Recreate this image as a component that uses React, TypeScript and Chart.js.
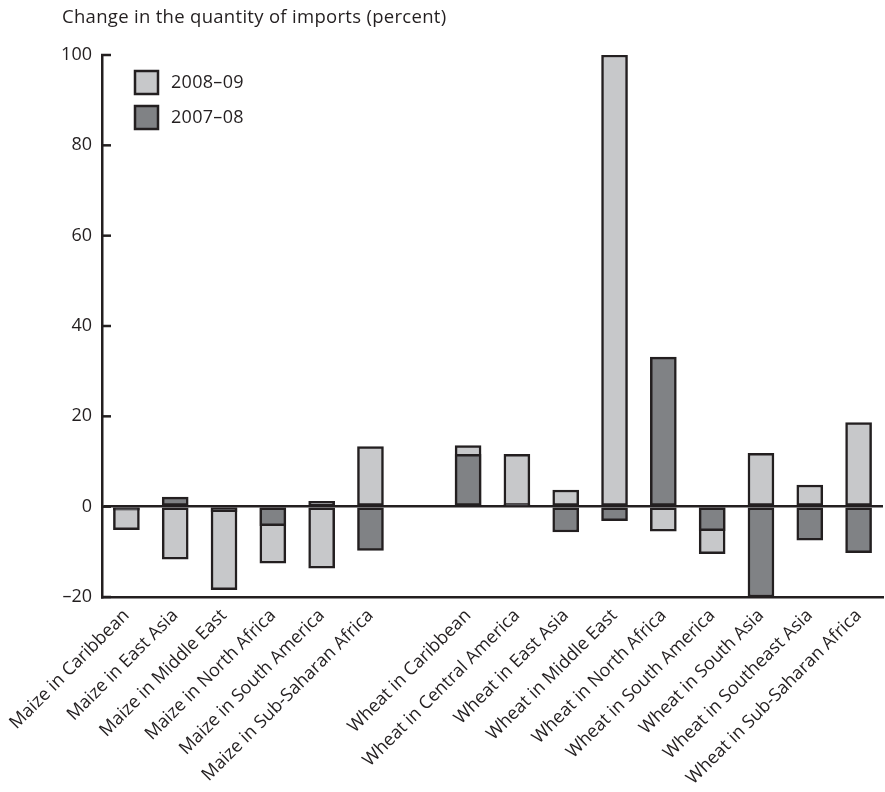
import { useEffect, useRef } from 'react';
import { Chart, registerables } from 'chart.js';

Chart.register(...registerables);

const categories = [
  'Maize in Caribbean',
  'Maize in East Asia',
  'Maize in Middle East',
  'Maize in North Africa',
  'Maize in South America',
  'Maize in Sub-Saharan Africa',
  '',
  'Wheat in Caribbean',
  'Wheat in Central America',
  'Wheat in East Asia',
  'Wheat in Middle East',
  'Wheat in North Africa',
  'Wheat in South America',
  'Wheat in South Asia',
  'Wheat in Southeast Asia',
  'Wheat in Sub-Saharan Africa',
];

const series2008_09 = [-5.1, -11.6, -18.4, -12.5, -13.6, 13.3, null, 13.5, 11.6, 3.7, 100, -5.4, -10.4, 11.8, 4.8, 18.6];
const series2007_08 = [-0.8, 2.1, -1.1, -4.2, 1.2, -9.7, null, 11.6, 0.5, -5.6, -3.1, 33.1, -5.3, -20, -7.4, -10.2];

const yTickValues = [-20, 0, 20, 40, 60, 80, 100];
const titleText = 'Change in the quantity of imports (percent)';
const legendLabels = ['2008\u201309', '2007\u201308'];

const INK = '#231f20';
const LIGHT = '#c7c8ca';
const DARK = '#808285';
const FONT = "'Open Sans', sans-serif";

const overlayPlugin = {
  id: 'overlay',
  afterDraw(chart: any) {
    const { ctx, chartArea, scales } = chart;
    const y = scales.y;
    ctx.save();
    // inward tick marks
    ctx.strokeStyle = INK;
    ctx.lineWidth = 2.5;
    yTickValues.forEach((v) => {
      const py = y.getPixelForValue(v);
      ctx.beginPath();
      ctx.moveTo(chartArea.left - 1, py);
      ctx.lineTo(chartArea.left + 9, py);
      ctx.stroke();
    });
    // title
    ctx.fillStyle = INK;
    ctx.font = `18.5px ${FONT}`;
    ctx.textAlign = 'left';
    ctx.textBaseline = 'alphabetic';
    (ctx as any).letterSpacing = '0.3px';
    ctx.fillText(titleText, 62, 23);
    // legend
    const colors = [LIGHT, DARK];
    legendLabels.forEach((lab, i) => {
      const bx = chartArea.left + 33;
      const by = chartArea.top + 16 + i * 35;
      ctx.fillStyle = colors[i];
      ctx.fillRect(bx, by, 23, 23);
      ctx.strokeStyle = INK;
      ctx.lineWidth = 2.5;
      ctx.strokeRect(bx, by, 23, 23);
      ctx.fillStyle = INK;
      ctx.font = `18px ${FONT}`;
      ctx.textBaseline = 'middle';
      ctx.fillText(lab, bx + 36, by + 12);
    });
    ctx.restore();
  },
};

export default function App() {
  const ref = useRef<HTMLCanvasElement>(null);
  useEffect(() => {
    const chart = new Chart(ref.current as HTMLCanvasElement, {
      type: 'bar',
      data: {
        labels: categories,
        datasets: [
          {
            label: legendLabels[0],
            data: series2008_09 as any,
            backgroundColor: LIGHT,
            borderColor: INK,
            borderWidth: 2.5,
            borderSkipped: false,
            order: 2,
          },
          {
            label: legendLabels[1],
            data: series2007_08 as any,
            backgroundColor: DARK,
            borderColor: INK,
            borderWidth: 2.5,
            borderSkipped: false,
            order: 1,
          },
        ],
      },
      options: {
        animation: false,
        responsive: true,
        maintainAspectRatio: false,
        layout: { padding: { left: 0, right: 2, top: 55, bottom: 0 } },
        datasets: { bar: { grouped: false, barThickness: 26 } as any },
        plugins: {
          legend: { display: false },
          tooltip: { enabled: false },
          title: { display: false },
        },
        scales: {
          x: {
            grid: { display: false, drawTicks: false },
            border: { display: true, color: INK, width: 2.5 },
            ticks: {
              autoSkip: false,
              minRotation: 45,
              maxRotation: 45,
              padding: 8,
              color: INK,
              font: { family: FONT, size: 18 },
            },
            afterFit(scale: any) {
              scale.height = 195;
            },
          },
          y: {
            min: -20,
            max: 100,
            afterBuildTicks(scale: any) {
              scale.ticks = yTickValues.map((v) => ({ value: v }));
            },
            grid: {
              drawTicks: false,
              lineWidth: 2.5,
              color: (c: any) => (c.tick && c.tick.value === 0 ? INK : 'rgba(0,0,0,0)'),
            },
            border: { display: true, color: INK, width: 2.5 },
            ticks: {
              padding: 10,
              color: INK,
              font: { family: FONT, size: 18 },
              callback: (v: any) => (Number(v) < 0 ? '\u2013' + Math.abs(Number(v)) : String(v)),
            },
            afterFit(scale: any) {
              scale.width = 102;
            },
          },
        },
      },
      plugins: [overlayPlugin],
    });
    return () => chart.destroy();
  }, []);
  return (
    <div style={{ position: 'fixed', left: 0, top: 0, width: 885, height: 792 }}>
      <canvas ref={ref} />
    </div>
  );
}
